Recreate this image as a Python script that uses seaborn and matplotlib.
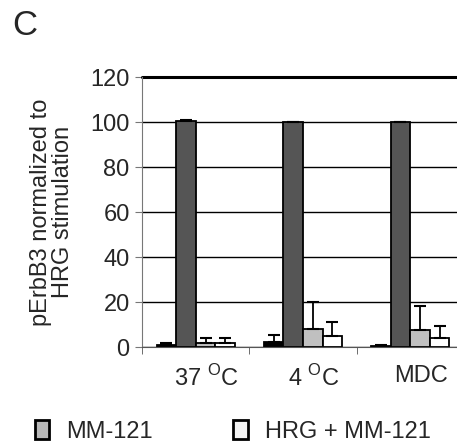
import numpy as np
import pandas as pd
import seaborn as sns
import matplotlib.pyplot as plt
from matplotlib.patches import Patch
from matplotlib.transforms import ScaledTranslation

# values
conditions = ["37 $^\\mathrm{O}$C", "4 $^\\mathrm{O}$C", "MDC"]
treatments = ["Control", "HRG", "MM-121", "HRG + MM-121"]
control = [1.0, 2.4, 0.3]
hrg = [100.5, 100.0, 100.0]
mm121 = [1.8, 8.2, 7.5]
hrg_mm121 = [1.6, 4.9, 3.9]
err_control = [0.6, 3.1, 0.5]
err_hrg = [0.5, 0.0, 0.0]
err_mm121 = [2.4, 12.0, 10.8]
err_hrg_mm121 = [2.3, 6.4, 5.5]
bar_colors = ["#000000", "#555555", "#c0c0c0", "#ffffff"]

sns.set_style("white")
plt.rcParams["font.family"] = ["Liberation Sans", "DejaVu Sans"]
plt.rcParams["mathtext.fontset"] = "custom"
plt.rcParams["mathtext.rm"] = "Liberation Sans"

df = pd.DataFrame({
    "condition": np.repeat(conditions, len(treatments)),
    "treatment": treatments * len(conditions),
    "value": np.array([control, hrg, mm121, hrg_mm121]).T.ravel(),
})
errs = [err_control, err_hrg, err_mm121, err_hrg_mm121]

fig = plt.figure(figsize=(4.57, 4.47), dpi=100)
ax = fig.add_axes([0.311, 0.2237, 0.704, 0.604])

sns.barplot(data=df, x="condition", y="value", hue="treatment",
            hue_order=treatments, palette=bar_colors, width=0.73,
            edgecolor="black", linewidth=1.3, errorbar=None,
            legend=False, ax=ax)

# plus-only error bars, Excel style
for cont, err in zip(ax.containers, errs):
    for bar, e in zip(cont, err):
        x = bar.get_x() + bar.get_width() / 2
        y = bar.get_height()
        ax.errorbar(x, y, yerr=[[0], [e]], fmt="none", ecolor="black",
                    elinewidth=1.3, capsize=4, capthick=1.5, zorder=1)

ax.set_ylim(0, 120)
ax.set_xlim(-0.5, 2.5)
ax.set_yticks(range(0, 121, 20))
ax.set_axisbelow(True)
ax.yaxis.grid(True, color="black", linewidth=1.0)
ax.axhline(120, color="black", linewidth=2.2, clip_on=False)

for s in ["top", "right"]:
    ax.spines[s].set_visible(False)
ax.spines["left"].set_color("#777777")
ax.spines["bottom"].set_color("#555555")

ax.set_xticks([-0.5, 0.5, 1.5, 2.5], minor=True)
ax.tick_params(axis="x", which="major", length=0, pad=13, labelsize=17)
ax.tick_params(axis="x", which="minor", length=5, color="#555555",
               direction="out", bottom=True)
ax.tick_params(axis="y", length=5, color="#777777", direction="out",
               left=True, labelsize=17, pad=4)
shift = ScaledTranslation(8 / 72, 0, fig.dpi_scale_trans)
for lab in ax.get_xticklabels():
    lab.set_transform(lab.get_transform() + shift)

ax.set_xlabel("")
ax.set_ylabel("pErbB3 normalized to\nHRG stimulation", fontsize=17,
              labelpad=12, linespacing=1.0)

fig.text(0.026, 0.98, "C", fontsize=25, va="top", ha="left")

handles = [Patch(facecolor="#b8b8b8", edgecolor="black", linewidth=2),
           Patch(facecolor="#f2f2f2", edgecolor="black", linewidth=2)]
fig.legend(handles, ["MM-121", "HRG + MM-121"], ncol=2, frameon=False,
           fontsize=17, loc="lower left", bbox_to_anchor=(0.055, -0.012),
           handlelength=0.6, handleheight=0.85, handletextpad=0.75,
           columnspacing=3.4, borderaxespad=0)

fig.savefig("out.png", dpi=100)
